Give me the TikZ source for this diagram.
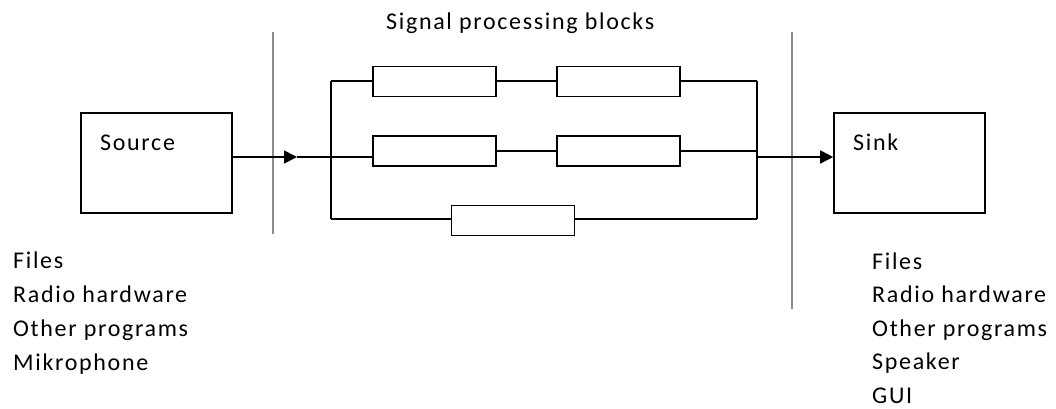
\documentclass[tikz,border=0pt]{standalone}
\usepackage{fontspec}
\setmainfont[LetterSpace=7]{Carlito}
\usetikzlibrary{arrows.meta}
\begin{document}
\begin{tikzpicture}[x=1pt,y=-1pt,
  box/.style={draw,line width=1.6pt,minimum width=151pt,minimum height=100pt,inner sep=0pt},
  blk/.style={draw,line width=1.6pt,minimum width=123pt,minimum height=30pt,inner sep=0pt},
  wire/.style={line width=1.6pt},
  sep/.style={draw=black!45,line width=1.2pt},
  txt/.style={font=\fontsize{24}{24}\selectfont,inner sep=0pt,anchor=base west},
  arr/.style={wire,-{Triangle[length=13pt,width=13pt]}}]
\useasboundingbox (0,0) rectangle (1056,409);
% boxes
\node[box] (src) at (156.5,163) {};
\node[box] (snk) at (909.5,163) {};
\node[blk] (b11) at (434.5,81.5) {};
\node[blk] (b12) at (618.5,81.5) {};
\node[blk] (b21) at (434.5,151) {};
\node[blk] (b22) at (618.5,151) {};
\node[blk] (b3)  at (513,220.5) {};
% texts
\node[txt] (tsrc) at (100,150) {Source};
\node[txt] (tsnk) at (853,150) {Sink};
\node[txt] (title) at (386,30) {Signal processing blocks};
\node[txt] (l1) at (13,268) {Files};
\node[txt] (l2) at (13,302) {Radio hardware};
\node[txt] (l3) at (13,336) {Other programs};
\node[txt] (l4) at (13,370) {Mikrophone};
\node[txt] (r1) at (872,269) {Files};
\node[txt] (r2) at (872,302) {Radio hardware};
\node[txt] (r3) at (872,336) {Other programs};
\node[txt] (r4) at (872,369) {Speaker};
\node[txt] (r5) at (872,403) {GUI};
% separators
\coordinate (s1t) at (273,32); \coordinate (s1b) at (273,234);
\coordinate (s2t) at (792,32); \coordinate (s2b) at (792,309);
\draw[sep] (s1t) -- (s1b);
\draw[sep] (s2t) -- (s2b);
% buses
\coordinate (Lt) at (331,81); \coordinate (Lm) at (331,157); \coordinate (Lb) at (331,219);
\coordinate (Rt) at (757,81); \coordinate (Rm) at (757,157); \coordinate (Rb) at (757,219);
\coordinate (tip) at (297,157);
\draw[wire] (Lt) -- (Lb);
\draw[wire] (Rt) -- (Rb);
% input
\draw[arr] (src.east |- tip) -- (tip);
\draw[wire] (tip) -- (Lm);
\draw[wire] (Lm) -- (b21.west |- Lm);
% row 1
\draw[wire] (Lt) -- (b11.west |- Lt);
\draw[wire] (b11.east |- Lt) -- (b12.west |- Lt);
\draw[wire] (b12.east |- Rt) -- (Rt);
% row 2
\draw[wire] (b21.east) -- (b22.west);
\draw[wire] (b22.east) -- (b22.east -| Rt);
% row 3
\draw[wire] (Lb) -- (b3.west |- Lb);
\draw[wire] (b3.east |- Rb) -- (Rb);
% output
\draw[arr] (Rm) -- (snk.west |- Rm);
\end{tikzpicture}
\end{document}
